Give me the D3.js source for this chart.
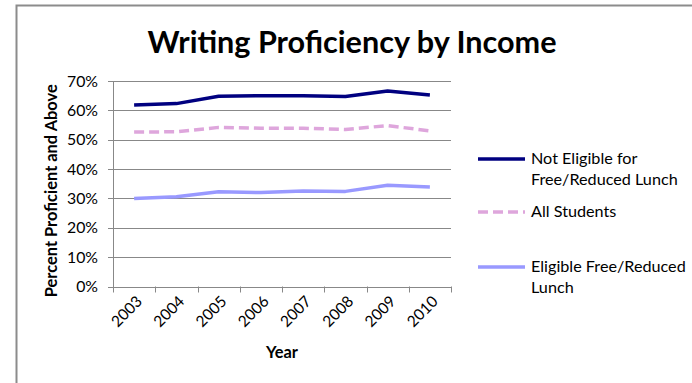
<!DOCTYPE html>
<html><head><meta charset="utf-8">
<script src="https://cdn.jsdelivr.net/npm/d3@7/dist/d3.min.js"></script>
<style>body{margin:0;background:#fff}svg{display:block}text{font-family:Lato,"Open Sans",sans-serif;fill:#000}</style>
</head><body><svg id="c" width="692" height="383"></svg>
<script>
const years = ["2003","2004","2005","2006","2007","2008","2009","2010"];
const notEligible = [61.8, 62.3, 64.8, 65.0, 65.0, 64.7, 66.6, 65.2];
const allStudents = [52.6, 52.7, 54.2, 53.9, 53.9, 53.5, 54.8, 53.0];
const eligible = [30.0, 30.6, 32.3, 32.0, 32.5, 32.4, 34.5, 33.9];
const yTicks = [0, 10, 20, 30, 40, 50, 60, 70];
const seriesNames = [["Not Eligible for","Free/Reduced Lunch"],["All Students"],["Eligible Free/Reduced","Lunch"]];

const svg = d3.select("#c");
const L = 113, R = 451, T = 81, B = 286.5;
const x = d3.scaleBand().domain(years).range([L, R]);
const y = d3.scaleLinear().domain([0, 70]).range([B, T]);

function measure(txt, fs, bold){ const t = svg.append("text").attr("font-size",fs).attr("font-weight",bold?"bold":null).text(txt); const w = t.node().getComputedTextLength(); t.remove(); return w; }
function fitSize(txt, w, bold){ return +(20*w/measure(txt,20,bold)).toFixed(2); }
function fit(sel, w){ const n = sel.node(); const fs = parseFloat(sel.attr("font-size")); const cl = n.getComputedTextLength(); sel.attr("font-size", (fs*w/cl).toFixed(2)); }

// border
svg.append("path").attr("d","M16.5,383 V5.5 H692").attr("fill","none").attr("stroke","#8c8c8c").attr("stroke-width",2);

// title
fit(svg.append("text").attr("x",352).attr("y",53).attr("text-anchor","middle").attr("font-weight","bold").attr("font-size",24).text("Writing Proficiency by Income"), 409);

// gridlines
svg.append("g").selectAll("line").data(yTicks).join("line")
  .attr("x1",L-5).attr("x2",R).attr("y1",d=>Math.round(y(d))+0.5).attr("y2",d=>Math.round(y(d))+0.5)
  .attr("stroke","#888").attr("stroke-width",1);
// y axis line
svg.append("line").attr("x1",L+0.5).attr("x2",L+0.5).attr("y1",T).attr("y2",B+0.5).attr("stroke","#888");
// x ticks
const xt = years.map(d=>x(d)).concat([R]);
svg.append("g").selectAll("line").data(xt).join("line")
  .attr("x1",d=>Math.round(d)+0.5).attr("x2",d=>Math.round(d)+0.5).attr("y1",B).attr("y2",B+6).attr("stroke","#888");

// y tick labels
const tickFs = fitSize("70%", 31);
svg.append("g").selectAll("text").data(yTicks).join("text")
  .attr("x",98).attr("y",d=>y(d)).attr("dy","0.36em").attr("text-anchor","end").attr("font-size",tickFs)
  .text(d=>d+"%");

// x labels
const xFs = fitSize("2003", 36);
svg.append("g").selectAll("text").data(years).join("text")
  .attr("text-anchor","end").attr("font-size",xFs)
  .attr("transform",d=>`translate(${x(d)+x.bandwidth()/2+9},${B+16}) rotate(-45)`)
  .text(d=>d);

// axis titles
fit(svg.append("text").attr("transform",`translate(57,${(T+B)/2+7}) rotate(-90)`).attr("text-anchor","middle").attr("font-weight","bold").attr("font-size",13).text("Percent Proficient and Above"), 213);
fit(svg.append("text").attr("x",(L+R)/2).attr("y",358).attr("text-anchor","middle").attr("font-weight","bold").attr("font-size",14).text("Year"), 32);

// lines
const line = d3.line().x((d,i)=>x(years[i])+x.bandwidth()/2).y(d=>y(d));
const styles = [{c:"#000080",dash:null},{c:"#dea6dc",dash:"10,5"},{c:"#9999ff",dash:null}];
const data = [notEligible, allStudents, eligible];
[2,1,0].forEach(i=>{
  svg.append("path").datum(data[i]).attr("d",line).attr("fill","none").attr("stroke",styles[i].c)
    .attr("stroke-width",3.5).attr("stroke-dasharray",styles[i].dash).attr("stroke-linejoin","round");
});

// legend
const legFs = fitSize("Eligible Free/Reduced", 155);
const legY = [159, 212, 267];
seriesNames.forEach((names,i)=>{
  svg.append("line").attr("x1",478).attr("x2",525).attr("y1",legY[i]).attr("y2",legY[i])
    .attr("stroke",styles[i].c).attr("stroke-width",3.5).attr("stroke-dasharray",styles[i].dash);
  names.forEach((t,j)=>{
    svg.append("text").attr("x",531).attr("y",legY[i]+5+j*20.5).attr("font-size",legFs).text(t);
  });
});
</script></body></html>
